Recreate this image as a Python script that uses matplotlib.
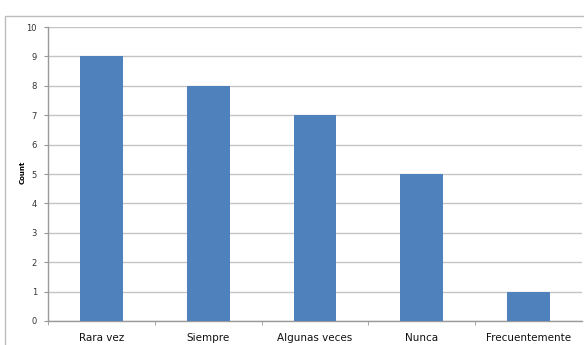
import matplotlib.pyplot as plt
from matplotlib.patches import Rectangle

categories = ['Rara vez', 'Siempre', 'Algunas veces', 'Nunca', 'Frecuentemente']
counts = [9, 8, 7, 5, 1]
y_ticks = list(range(0, 11))

fig = plt.figure(figsize=(5.84, 3.45), dpi=100)

# outer chart frame (Excel style), runs off the right and bottom edge
fig.patches.append(Rectangle((0.0086, -0.05), 1.2, 1.0036, transform=fig.transFigure,
                             fill=False, edgecolor='#bdbdbd', linewidth=1.0))

ax = fig.add_axes([0.0822, 0.0696, 0.9144, 0.8521])

x = list(range(len(categories)))
ax.bar(x, counts, width=0.4, color='#4f81bd', zorder=3)

ax.set_xlim(-0.5, len(categories) - 0.5)
ax.set_ylim(0, 10)
ax.set_yticks(y_ticks)
ax.set_yticklabels([str(v) for v in y_ticks], fontsize=6, color='#333333')
ax.yaxis.grid(True, color='#c4c4c4', linewidth=1.0, zorder=0)

ax.set_xticks(x)
ax.set_xticklabels(categories, fontsize=7.5, color='#111111')
ax.tick_params(axis='x', length=0, pad=9)
ax.set_xticks([i + 0.5 for i in x[:-1]] + [-0.5], minor=True)
ax.tick_params(axis='x', which='minor', length=3, color='#999999')
ax.tick_params(axis='y', length=3, color='#999999', pad=5)

for s in ['top', 'right']:
    ax.spines[s].set_visible(False)
for s in ['left', 'bottom']:
    ax.spines[s].set_color('#999999')
    ax.spines[s].set_linewidth(1.0)

fig.text(0.038, 0.5, 'Count', rotation=90, fontsize=5, fontweight='bold',
         va='center', ha='center')

fig.savefig('out.png', dpi=100)
